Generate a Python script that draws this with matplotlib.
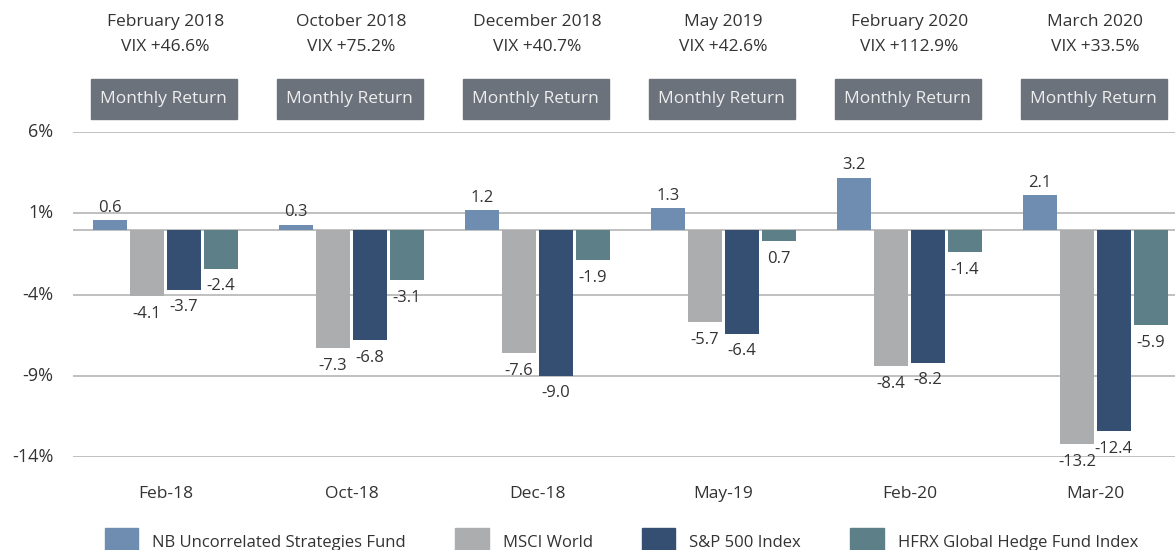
import numpy as np
import matplotlib
matplotlib.use("Agg")
import matplotlib.pyplot as plt
from matplotlib.patches import Rectangle, Patch
import matplotlib.transforms as mtransforms

plt.rcParams['font.family'] = ['Open Sans', 'DejaVu Sans']

# data
months = ["Feb-18", "Oct-18", "Dec-18", "May-19", "Feb-20", "Mar-20"]
titles = ["February 2018", "October 2018", "December 2018", "May 2019", "February 2020", "March 2020"]
vix = ["VIX +46.6%", "VIX +75.2%", "VIX +40.7%", "VIX +42.6%", "VIX +112.9%", "VIX +33.5%"]
series = ["NB Uncorrelated Strategies Fund", "MSCI World", "S&P 500 Index", "HFRX Global Hedge Fund Index"]
nb = [0.6, 0.3, 1.2, 1.3, 3.2, 2.1]
msci = [-4.1, -7.3, -7.6, -5.7, -8.4, -13.2]
sp500 = [-3.7, -6.8, -9.0, -6.4, -8.2, -12.4]
hfrx = [-2.4, -3.1, -1.9, -0.7, -1.4, -5.9]
# labels as printed on the chart (May-19 HFRX shown without sign)
hfrx_labels = ["-2.4", "-3.1", "-1.9", "0.7", "-1.4", "-5.9"]
yticks = [6, 1, -4, -9, -14]

colors = ["#6f8cb1", "#acadaf", "#344f72", "#5d7f88"]
txt = "#333333"

fig = plt.figure(figsize=(11.75, 5.5), dpi=100)
ax = fig.add_axes([73 / 1175, 1 - 457 / 550, 1 - 73 / 1175, 325 / 550])

x = np.arange(len(months))
w = 0.182
step = 0.198
offsets = [-1.5 * step, -0.5 * step, 0.5 * step, 1.5 * step]
all_vals = [nb, msci, sp500, hfrx]
all_labels = [[f"{v:.1f}" for v in nb], [f"{v:.1f}" for v in msci],
              [f"{v:.1f}" for v in sp500], hfrx_labels]

for vals, labs, off, c in zip(all_vals, all_labels, offsets, colors):
    ax.bar(x + off, vals, width=w, color=c, zorder=3)
    for xi, v, lab in zip(x + off, vals, labs):
        if v >= 0:
            ax.annotate(lab, (xi, v), xytext=(0, 3), textcoords="offset points",
                        ha="center", va="bottom", fontsize=12, color=txt)
        else:
            ax.annotate(lab, (xi, v), xytext=(0, -7), textcoords="offset points",
                        ha="center", va="top", fontsize=12, color=txt)

ax.set_ylim(-14, 6)
ax.set_xlim(-0.497, 5.428)
ax.set_yticks(yticks)
ax.set_yticklabels([f"{t}%" for t in yticks], fontsize=13, color=txt)
ax.set_xticks(x)
ax.set_xticklabels(months, fontsize=12.5, color=txt)
ax.tick_params(axis="both", length=0)
ax.tick_params(axis="x", pad=21)
ax.tick_params(axis="y", pad=14)
for t in ax.get_yticklabels():
    t.set_va("center")
for s in ax.spines.values():
    s.set_visible(False)
for t in yticks:
    ax.axhline(t, color="#b5b5b5", lw=1.2, zorder=1)
ax.axhline(0, color="#b5b5b5", lw=1.2, zorder=1)

# headers
trans = mtransforms.blended_transform_factory(ax.transData, ax.transAxes)
bw = 146 / 186
for xi, t1, t2 in zip(x, titles, vix):
    ax.text(xi, 1.338, t1, transform=trans, ha="center", va="center", fontsize=12.5, color=txt)
    ax.text(xi, 1.262, t2, transform=trans, ha="center", va="center", fontsize=12.5, color=txt)
    ax.add_patch(Rectangle((xi - bw / 2 - 0.01, 1.040), bw, 0.123, transform=trans,
                           color="#6b727c", clip_on=False))
    ax.text(xi - 0.01, 1.1015, "Monthly Return", transform=trans, ha="center", va="center",
            fontsize=12.5, color="#eeeeee")

handles = [Patch(color=c) for c in colors]
fig.legend(handles, series, loc="center left", bbox_to_anchor=(105 / 1175, 1 - 542 / 550),
           ncol=4, frameon=False, fontsize=12, handlelength=2.0, handleheight=2.3,
           handletextpad=0.85, columnspacing=2.95, labelcolor=txt,
           borderaxespad=0, borderpad=0)

fig.savefig("out.png", dpi=100)
